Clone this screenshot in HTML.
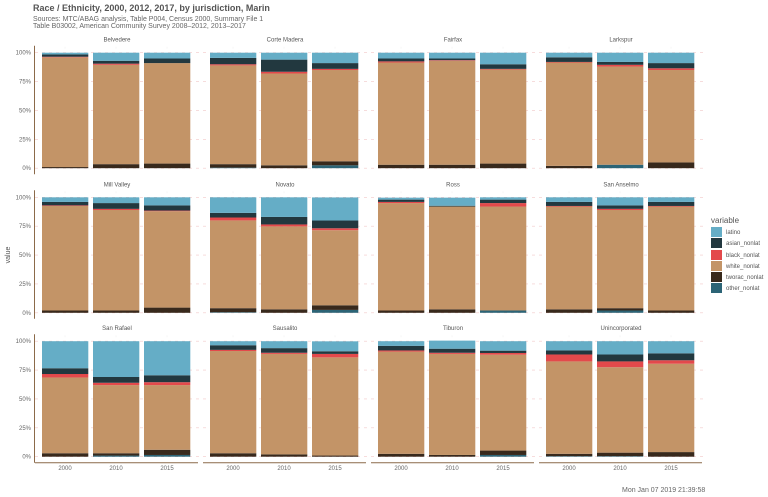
<!DOCTYPE html>
<html><head><meta charset="utf-8"><style>
html,body{margin:0;padding:0;background:#fff;}
svg{display:block;font-family:"Liberation Sans",sans-serif;}
</style></head><body>
<svg id="s" width="768" height="497" xmlns="http://www.w3.org/2000/svg">
<text x="33" y="11" font-size="9" font-weight="bold" fill="#555">Race / Ethnicity, 2000, 2012, 2017, by jurisdiction, Marin</text>
<text x="33" y="21" font-size="7" fill="#666">Sources: MTC/ABAG analysis, Table P004, Census 2000, Summary File 1</text>
<text x="33" y="28" font-size="7" fill="#666">Table B03002, American Community Survey 2008–2012, 2013–2017</text>
<text x="10" y="255" font-size="7" fill="#555" transform="rotate(-90 10 255)" text-anchor="middle">value</text>
<text x="711" y="223" font-size="8" fill="#555">variable</text>
<text x="622" y="492" font-size="7" fill="#666">Mon Jan 07 2019 21:39:58</text>
</svg>
<script>
const C=["#2c6476","#38291c","#c39467","#e3494b","#22383f","#65adc6"];
const names=["latino","asian_nonlat","black_nonlat","white_nonlat","tworac_nonlat","other_nonlat"];
const D=[
["Belvedere",[[0,1,95,0.5,2,1.5],[0,3.5,86,1,2.5,7],[0,4,87,0,4,5]]],
["Corte Madera",[[0.5,3,85.5,1,5.5,4.5],[0,2.5,79.5,1.5,10.5,6],[2.5,3.5,79,1,5,9]]],
["Fairfax",[[0,3,88.5,1,2.5,5],[0,3,90,0.5,1.5,5],[0,4,81.5,0.5,4,10]]],
["Larkspur",[[0,2,89.5,0.5,4,4],[3,0,85,1.5,2.5,8],[0,5,80,1.5,4.5,9]]],
["Mill Valley",[[0,2,90.5,0.5,3,4],[0,2,87,1,5,5],[0,4.5,83.5,0.5,4.5,7]]],
["Novato",[[0.5,3.5,76,2.5,4,13.5],[0,3,71.8,1.7,6.5,17],[2.5,4,65,1.7,6.7,20]]],
["Ross",[[0,2,93,1,2,1.7],[0,3,89,0,0.7,7],[2,0,90,3,3,2]]],
["San Anselmo",[[0,3,89,0.5,3.5,4],[2,2,85,1,3,7],[0,2,90,0.5,3.5,4]]],
["San Rafael",[[0,3,65.6,3,5,23.4],[1,2,59,2,5,31],[1.5,4.5,56,2.5,6,29.5]]],
["Sausalito",[[0,3,88.5,1,4,3.5],[0,2,87,1,4,6],[0,1,85,3,2.3,8.6]]],
["Tiburon",[[0,2.5,88.5,1,4,4],[0,1.5,87.5,1,3.5,7],[1.5,3.8,83,1.5,2,8.2]]],
["Unincorporated",[[0.5,2,80,6,3.5,8],[0.5,3,74,5,6,11.5],[0,4,76.5,3,6,10.5]]]];
const top0=[52.7,197.3,341.2],H=115.5;
let o="";
D.forEach((d,i)=>{
 const r=Math.floor(i/4),c=i%4,px=35+c*168,y0=top0[r],yb=y0+H;
 o+=`<text x="${px+82}" y="${y0-11}" font-size="6" fill="#555" text-anchor="middle">${d[0]}</text>`;
 for(let k=0;k<5;k++){const y=y0+H*k/4;o+=`<line x1="${px}" x2="${px+164}" y1="${y}" y2="${y}" stroke="#f2c8c8" stroke-width="0.6" stroke-dasharray="3,4"/>`;}
 for(let b=0;b<3;b++){const bx=px+7+b*51;o+=`<line x1="${bx+23}" x2="${bx+23}" y1="${y0-6}" y2="${yb+6}" stroke="#eee" stroke-width="0.5" stroke-dasharray="2,6"/>`;}
 d[1].forEach((v,b)=>{let cum=0;const bx=px+7+b*51;
  v.forEach((p,k)=>{if(p<=0)return;const yt=yb-(cum+p)/100*H;o+=`<rect x="${bx}" y="${yt.toFixed(2)}" width="46.3" height="${(p/100*H).toFixed(2)}" fill="${C[k]}"/>`;cum+=p;});});
 if(c==0){o+=`<line x1="34.5" x2="34.5" y1="${y0-7}" y2="${yb+6}" stroke="#8b6a4a" stroke-width="1"/>`;
  ["0%","25%","50%","75%","100%"].forEach((t,k)=>{o+=`<text x="31" y="${yb-H*k/4+2}" font-size="6" fill="#666" text-anchor="end">${t}</text>`;});}
 if(r==2){o+=`<line x1="${px}" x2="${px+163}" y1="462.7" y2="462.7" stroke="#8b6a4a" stroke-width="1"/>`;
  ["2000","2010","2015"].forEach((t,b)=>{o+=`<text x="${px+30+b*51}" y="470" font-size="6" fill="#666" text-anchor="middle">${t}</text>`;});}
});
const ly=[228,239,251,262,273,284],lc=[5,4,3,2,1,0];
names.forEach((n,k)=>{o+=`<rect x="711" y="${ly[k]-1}" width="11" height="10" fill="${C[lc[k]]}"/><text x="726" y="${ly[k]+6}" font-size="6" fill="#555">${n}</text>`;});
document.getElementById("s").insertAdjacentHTML("beforeend",o);
</script>
</body></html>
